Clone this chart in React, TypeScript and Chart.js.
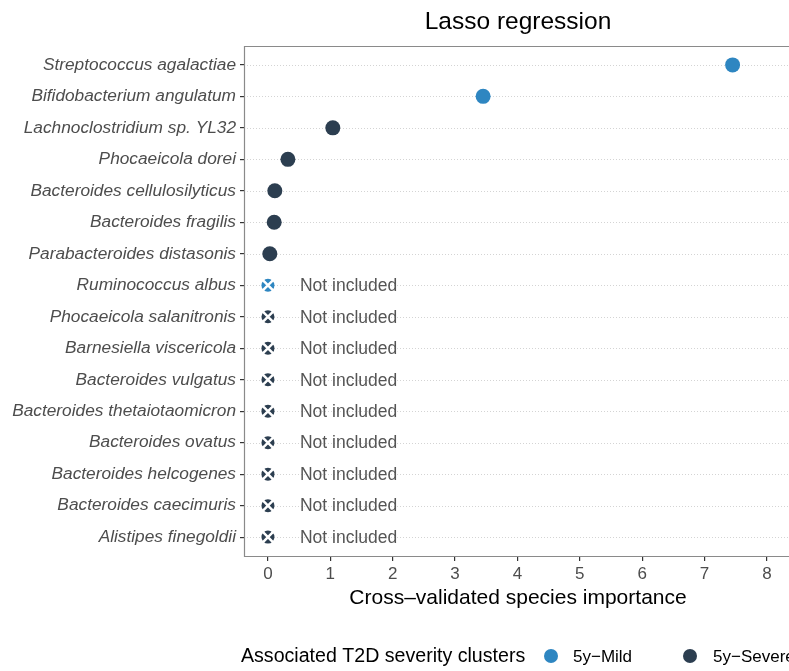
import React, { useEffect, useRef } from "react";
import { Chart, registerables } from "chart.js";

Chart.register(...registerables);

const species = [
  "Streptococcus agalactiae",
  "Bifidobacterium angulatum",
  "Lachnoclostridium sp. YL32",
  "Phocaeicola dorei",
  "Bacteroides cellulosilyticus",
  "Bacteroides fragilis",
  "Parabacteroides distasonis",
  "Ruminococcus albus",
  "Phocaeicola salanitronis",
  "Barnesiella viscericola",
  "Bacteroides vulgatus",
  "Bacteroides thetaiotaomicron",
  "Bacteroides ovatus",
  "Bacteroides helcogenes",
  "Bacteroides caecimuris",
  "Alistipes finegoldii",
];
const importance = [7.45, 3.45, 1.04, 0.32, 0.11, 0.1, 0.03, 0, 0, 0, 0, 0, 0, 0, 0, 0];
const cluster = [
  "5y-Mild", "5y-Mild", "5y-Severe", "5y-Severe", "5y-Severe", "5y-Severe", "5y-Severe",
  "5y-Mild", "5y-Severe", "5y-Severe", "5y-Severe", "5y-Severe", "5y-Severe", "5y-Severe", "5y-Severe", "5y-Severe",
];
const included = [true, true, true, true, true, true, true, false, false, false, false, false, false, false, false, false];
const xTicks = [0, 1, 2, 3, 4, 5, 6, 7, 8];

const MILD = "#2E86C1";
const SEVERE = "#2C3E50";
const colorOf = (c: string) => (c === "5y-Mild" ? MILD : SEVERE);
const FONT = "'Liberation Sans', Arial, Helvetica, sans-serif";

export default function App() {
  const ref = useRef<HTMLCanvasElement | null>(null);
  useEffect(() => {
    const inc = species.map((_, i) => i).filter((i) => included[i]);
    const exc = species.map((_, i) => i).filter((i) => !included[i]);

    const decor = {
      id: "decor",
      beforeDatasetsDraw(chart: any) {
        const { ctx, chartArea: a, scales } = chart;
        const ys = scales.y;
        ctx.save();
        ctx.strokeStyle = "#d4d4d4";
        ctx.lineWidth = 1;
        ctx.setLineDash([1, 2]);
        species.forEach((_, i) => {
          const py = Math.round(ys.getPixelForValue(i)) + 0.5;
          ctx.beginPath();
          ctx.moveTo(a.left, py);
          ctx.lineTo(a.right + 40, py);
          ctx.stroke();
        });
        ctx.setLineDash([]);
        ctx.strokeStyle = "#8a8a8a";
        ctx.lineWidth = 1.2;
        ctx.beginPath();
        ctx.moveTo(a.right + 40, a.top + 0.5);
        ctx.lineTo(a.left + 0.5, a.top + 0.5);
        ctx.lineTo(a.left + 0.5, a.bottom + 0.5);
        ctx.lineTo(a.right + 40, a.bottom + 0.5);
        ctx.stroke();
        ctx.restore();
      },
      afterDraw(chart: any) {
        const { ctx, scales } = chart;
        const xs = scales.x;
        const ys = scales.y;
        ctx.save();
        ctx.fillStyle = "#555555";
        ctx.font = `17.5px ${FONT}`;
        ctx.textAlign = "left";
        ctx.textBaseline = "middle";
        exc.forEach((i) => {
          ctx.fillText("Not included", xs.getPixelForValue(0) + 32, ys.getPixelForValue(i) + 1);
        });
        ctx.fillStyle = "#000000";
        ctx.textAlign = "center";
        ctx.font = `24.5px ${FONT}`;
        ctx.fillText("Lasso regression", 518, 22);
        ctx.font = `21px ${FONT}`;
        ctx.fillText("Cross\u2013validated species importance", 518, 598);
        // legend
        ctx.textAlign = "left";
        ctx.font = `19.6px ${FONT}`;
        ctx.fillText("Associated T2D severity clusters", 241, 657);
        ctx.beginPath();
        ctx.fillStyle = MILD;
        ctx.arc(551, 656, 7, 0, Math.PI * 2);
        ctx.fill();
        ctx.beginPath();
        ctx.fillStyle = SEVERE;
        ctx.arc(690, 656, 7, 0, Math.PI * 2);
        ctx.fill();
        ctx.fillStyle = "#000000";
        ctx.font = `17px ${FONT}`;
        ctx.fillText("5y\u2212Mild", 573, 657);
        ctx.fillText("5y\u2212Severe", 713, 657);
        ctx.restore();
      },
    };

    const chart = new Chart(ref.current as HTMLCanvasElement, {
      type: "scatter",
      data: {
        datasets: [
          {
            label: "included",
            order: 2,
            data: inc.map((i) => ({ x: importance[i], y: i })),
            backgroundColor: inc.map((i) => colorOf(cluster[i])),
            borderColor: inc.map((i) => colorOf(cluster[i])),
            pointRadius: 7.5,
            pointBorderWidth: 0,
          },
          {
            label: "excluded",
            order: 1,
            data: exc.map((i) => ({ x: importance[i], y: i })),
            backgroundColor: exc.map((i) => colorOf(cluster[i])),
            borderColor: exc.map((i) => colorOf(cluster[i])),
            pointRadius: 6.5,
            pointBorderWidth: 0,
          },
          {
            label: "excluded-x",
            order: 0,
            data: exc.map((i) => ({ x: importance[i], y: i })),
            pointStyle: "crossRot",
            backgroundColor: "#ffffff",
            borderColor: "#ffffff",
            pointRadius: 8,
            pointBorderWidth: 2.5,
          },
        ],
      },
      options: {
        responsive: false,
        animation: false,
        layout: { padding: { top: 46, left: 0, right: 0, bottom: 0 } },
        plugins: { legend: { display: false }, tooltip: { enabled: false }, title: { display: false } },
        scales: {
          x: {
            type: "linear",
            min: -0.384,
            max: 8.186,
            afterBuildTicks: (s: any) => {
              s.ticks = xTicks.map((v) => ({ value: v }));
            },
            afterFit: (s: any) => {
              s.height = 115;
            },
            grid: { drawOnChartArea: false, drawTicks: true, tickLength: 5, color: "#333333", lineWidth: 1.2 },
            border: { display: false },
            ticks: { color: "#4d4d4d", font: { size: 17, family: FONT }, padding: 3, maxRotation: 0 },
          },
          y: {
            type: "linear",
            reverse: true,
            min: -0.6,
            max: 15.6,
            afterBuildTicks: (s: any) => {
              s.ticks = species.map((_, i) => ({ value: i }));
            },
            afterFit: (s: any) => {
              s.width = 244;
            },
            grid: { drawOnChartArea: false, drawTicks: true, tickLength: 4, color: "#333333", lineWidth: 1.2 },
            border: { display: false },
            ticks: {
              color: "#4d4d4d",
              font: { size: 17.3, family: FONT, style: "italic" },
              padding: 4,
              callback: (v: any) => species[Math.round(Number(v))] ?? "",
            },
          },
        },
      },
      plugins: [decor],
    } as any);
    return () => chart.destroy();
  }, []);

  return (
    <div style={{ position: "fixed", left: 0, top: 0, width: 789, height: 671, background: "#fff" }}>
      <canvas ref={ref} width={789} height={671} style={{ display: "block" }} />
    </div>
  );
}
